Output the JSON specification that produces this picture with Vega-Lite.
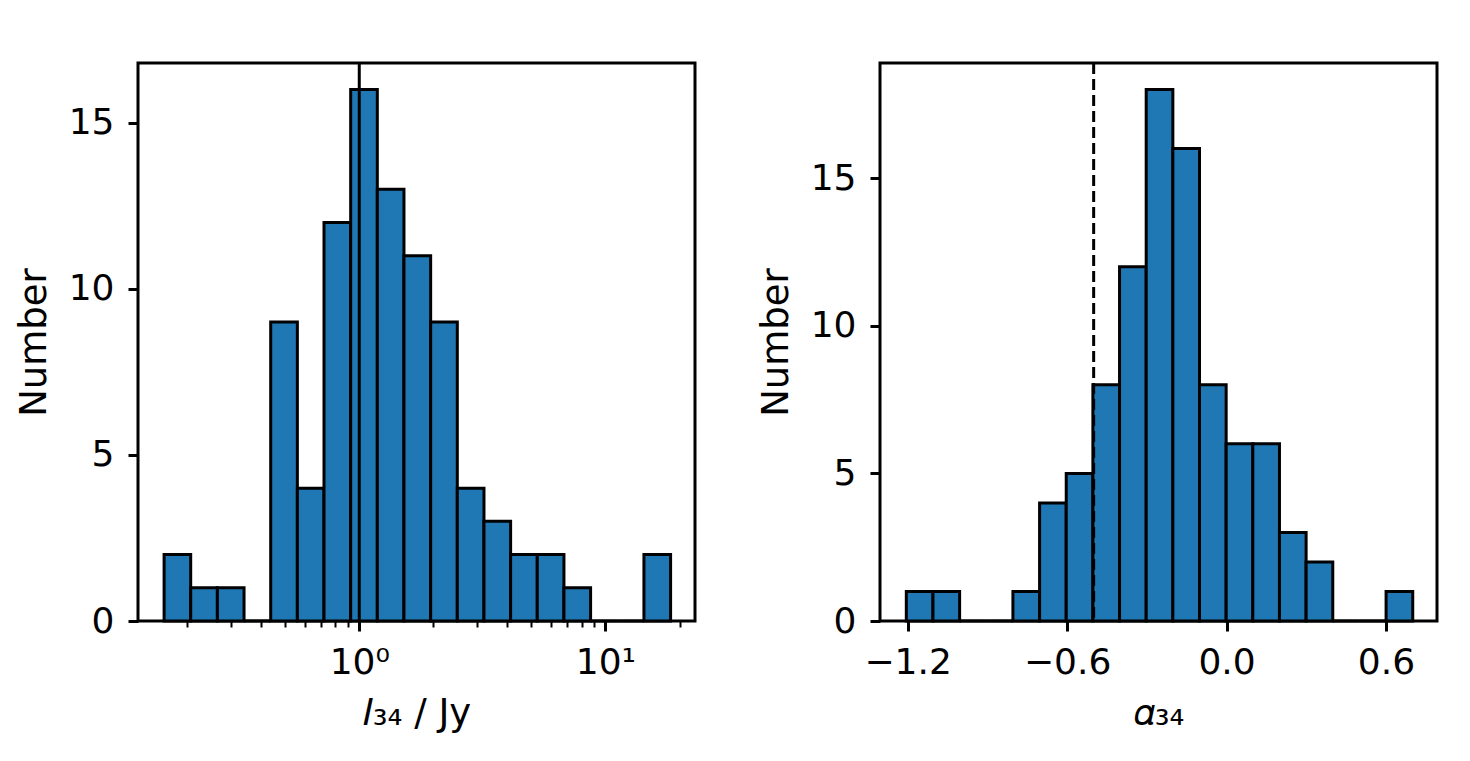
{
  "$schema": "https://vega.github.io/schema/vega-lite/v6.json",
  "background": "white",
  "padding": {"left": 13, "top": 60, "right": 10, "bottom": 5},
  "bounds": "flush",
  "spacing": 185,
  "config": {
    "view": {"stroke": "black", "strokeWidth": 3},
    "font": "DejaVu Sans",
    "axis": {
      "domain": false,
      "grid": false,
      "tickColor": "black",
      "tickWidth": 3,
      "tickSize": 10,
      "labelFont": "DejaVu Sans",
      "titleFont": "DejaVu Sans",
      "labelFontSize": 36,
      "titleFontSize": 37,
      "labelColor": "black",
      "titleColor": "black",
      "titleFontWeight": "normal",
      "labelPadding": 14,
      "titlePadding": 15,
      "labelOverlap": false,
      "labelFlush": false
    }
  },
  "datasets": {
    "flux": [
      {"lo": 0.1611, "hi": 0.2066, "n": 2},
      {"lo": 0.2066, "hi": 0.2652, "n": 1},
      {"lo": 0.2652, "hi": 0.3403, "n": 1},
      {"lo": 0.3403, "hi": 0.4367, "n": 0},
      {"lo": 0.4367, "hi": 0.5604, "n": 9},
      {"lo": 0.5604, "hi": 0.719, "n": 4},
      {"lo": 0.719, "hi": 0.9228, "n": 12},
      {"lo": 0.9228, "hi": 1.184, "n": 16},
      {"lo": 1.184, "hi": 1.519, "n": 13},
      {"lo": 1.519, "hi": 1.95, "n": 11},
      {"lo": 1.95, "hi": 2.502, "n": 9},
      {"lo": 2.502, "hi": 3.211, "n": 4},
      {"lo": 3.211, "hi": 4.12, "n": 3},
      {"lo": 4.12, "hi": 5.287, "n": 2},
      {"lo": 5.287, "hi": 6.785, "n": 2},
      {"lo": 6.785, "hi": 8.706, "n": 1},
      {"lo": 8.706, "hi": 11.17, "n": 0},
      {"lo": 11.17, "hi": 14.34, "n": 0},
      {"lo": 14.34, "hi": 18.4, "n": 2}
    ],
    "alpha": [
      {"lo": -1.205, "hi": -1.1047, "n": 1},
      {"lo": -1.1047, "hi": -1.0044, "n": 1},
      {"lo": -1.0044, "hi": -0.9041, "n": 0},
      {"lo": -0.9041, "hi": -0.8038, "n": 0},
      {"lo": -0.8038, "hi": -0.7035, "n": 1},
      {"lo": -0.7035, "hi": -0.6032, "n": 4},
      {"lo": -0.6032, "hi": -0.5029, "n": 5},
      {"lo": -0.5029, "hi": -0.4026, "n": 8},
      {"lo": -0.4026, "hi": -0.3023, "n": 12},
      {"lo": -0.3023, "hi": -0.202, "n": 18},
      {"lo": -0.202, "hi": -0.1017, "n": 16},
      {"lo": -0.1017, "hi": -0.0014, "n": 8},
      {"lo": -0.0014, "hi": 0.0989, "n": 6},
      {"lo": 0.0989, "hi": 0.1992, "n": 6},
      {"lo": 0.1992, "hi": 0.2995, "n": 3},
      {"lo": 0.2995, "hi": 0.3998, "n": 2},
      {"lo": 0.3998, "hi": 0.5001, "n": 0},
      {"lo": 0.5001, "hi": 0.6004, "n": 0},
      {"lo": 0.6004, "hi": 0.7007, "n": 1}
    ],
    "fluxline": [{"v": 1}],
    "alphaline": [{"v": -0.5}]
  },
  "hconcat": [
    {
      "width": 557,
      "height": 558,
      "layer": [
        {
          "data": {"name": "flux"},
          "mark": {"type": "bar", "color": "#1f77b4", "stroke": "black", "strokeWidth": 3},
          "encoding": {
            "x": {
              "field": "lo", "type": "quantitative",
              "scale": {"type": "log", "domain": [0.1262, 23.12], "nice": false},
              "axis": {
                "title": "𝐼₃₄ / Jy",
                "values": [0.2, 0.3, 0.4, 0.5, 0.6, 0.7, 0.8, 0.9, 1, 2, 3, 4, 5, 6, 7, 8, 9, 10, 20],
                "labelExpr": "datum.value == 1 ? '10⁰' : (datum.value == 10 ? '10¹' : '')",
                "tickSize": {"condition": {"test": "datum.value == 1 || datum.value == 10", "value": 10}, "value": 6},
                "tickWidth": {"condition": {"test": "datum.value == 1 || datum.value == 10", "value": 3}, "value": 2}
              }
            },
            "x2": {"field": "hi"},
            "y": {
              "field": "n", "type": "quantitative",
              "scale": {"domain": [0, 16.8], "nice": false},
              "axis": {"title": "Number", "values": [0, 5, 10, 15]}
            },
            "y2": {"datum": 0}
          }
        },
        {
          "data": {"name": "fluxline"},
          "mark": {"type": "rule", "color": "black", "strokeWidth": 3},
          "encoding": {
            "x": {"field": "v", "type": "quantitative", "title": "𝐼₃₄ / Jy"}
          }
        }
      ]
    },
    {
      "width": 557,
      "height": 558,
      "layer": [
        {
          "data": {"name": "alpha"},
          "mark": {"type": "bar", "color": "#1f77b4", "stroke": "black", "strokeWidth": 3},
          "encoding": {
            "x": {
              "field": "lo", "type": "quantitative",
              "scale": {"domain": [-1.304, 0.792], "nice": false, "zero": false},
              "axis": {"title": "𝛼₃₄", "values": [-1.2, -0.6, 0, 0.6], "format": ".1f"}
            },
            "x2": {"field": "hi"},
            "y": {
              "field": "n", "type": "quantitative",
              "scale": {"domain": [0, 18.9], "nice": false},
              "axis": {"title": "Number", "values": [0, 5, 10, 15]}
            },
            "y2": {"datum": 0}
          }
        },
        {
          "data": {"name": "alphaline"},
          "mark": {"type": "rule", "color": "black", "strokeWidth": 3, "strokeDash": [11, 5]},
          "encoding": {
            "x": {"field": "v", "type": "quantitative", "title": "𝛼₃₄"}
          }
        }
      ]
    }
  ]
}
